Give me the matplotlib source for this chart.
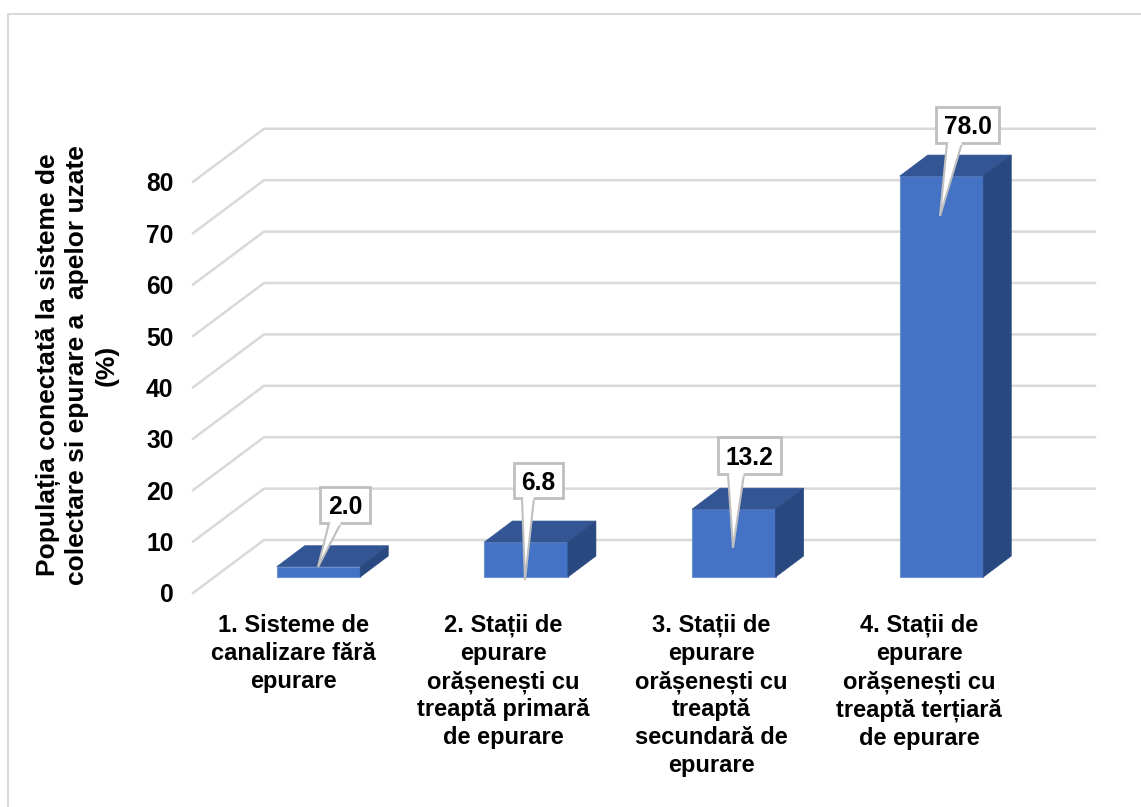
import matplotlib
matplotlib.use('Agg')
import matplotlib.pyplot as plt
from matplotlib.patches import Polygon, Rectangle
from matplotlib.transforms import Affine2D

plt.rcParams['font.family'] = ['Liberation Sans', 'DejaVu Sans']
plt.rcParams['font.weight'] = 'bold'

categories = [
    '1. Sisteme de\ncanalizare fără\nepurare',
    '2. Stații de\nepurare\norășenești cu\ntreaptă primară\nde epurare',
    '3. Stații de\nepurare\norășenești cu\ntreaptă\nsecundară de\nepurare',
    '4. Stații de\nepurare\norășenești cu\ntreaptă terțiară\nde epurare',
]
values = [2.0, 6.8, 13.2, 78.0]
yticks = [0, 10, 20, 30, 40, 50, 60, 70, 80]

W, H = 1141, 807
PX_X = 207.67   # px per category
PX_Y = 5.14     # px per percent
LEFT, RIGHT, BOTTOM, TOP = 193, 1095, 593, 128
CAT0 = 296      # px of first category on the front plane

# box (x0, x1, y0, y1), tail base (x0, x1), tail tip (x, y), in picture pixels
callouts = [
    ((320, 370, 487, 523), (329, 341), (318, 567)),
    ((514, 563, 463, 498), (522, 534), (525, 580)),
    ((718, 781, 437, 474), (728, 744), (733, 548)),
    ((936, 999, 107, 143), (947, 962), (940, 216)),
]

fig = plt.figure(figsize=(W / 100, H / 100), dpi=100)

# outer frame
fig.add_artist(plt.Line2D([8 / W, 8 / W, 1], [0, 1 - 13.5 / H, 1 - 13.5 / H], color='#d9d9d9', lw=1.5))

ax = fig.add_axes([LEFT / W, 1 - BOTTOM / H, (RIGHT - LEFT) / W, (BOTTOM - TOP) / H])
ax.set_xlim(-(CAT0 - LEFT) / PX_X, (RIGHT - CAT0) / PX_X)
ax.set_ylim(0, (BOTTOM - TOP) / PX_Y)
for s in ax.spines.values():
    s.set_visible(False)


def to_data(px, py):
    return (px - CAT0) / PX_X, (BOTTOM - py) / PX_Y


# gridlines: floor/side line then back wall
wall_dx = 71 / PX_X
wall_dy = 53 / PX_Y
x0, x1 = ax.get_xlim()
for v in yticks:
    ax.plot([x0, x0 + wall_dx, x1], [v, v + wall_dy, v + wall_dy], color='#d9d9d9', lw=1.8, clip_on=False, zorder=1)

# 3D bars
bar_dx = 22.5 / PX_X
bar_dy = 16 / PX_Y
bar_w = 83.5 / PX_X
depth_x = 28 / PX_X
depth_y = 21 / PX_Y
for i, v in enumerate(values):
    xl = i + bar_dx - bar_w / 2
    xr = i + bar_dx + bar_w / 2
    ax.bar(i + bar_dx, v, bar_w, bottom=bar_dy, color='#4472c4', edgecolor='#6f92d3', lw=0.8, zorder=3)
    t = v + bar_dy
    ax.add_patch(Polygon([(xl, t), (xr, t), (xr + depth_x, t + depth_y), (xl + depth_x, t + depth_y)],
                         fc='#335593', ec='#335593', lw=0.5, zorder=3))
    ax.add_patch(Polygon([(xr, bar_dy), (xr + depth_x, bar_dy + depth_y), (xr + depth_x, t + depth_y), (xr, t)],
                         fc='#2a4880', ec='#2a4880', lw=0.5, zorder=3))

# data callouts
for v, (box, base, tip) in zip(values, callouts):
    bx0, bx1, by0, by1 = box
    a = to_data(bx0, by1)
    b = to_data(bx1, by0)
    ax.add_patch(Rectangle(a, b[0] - a[0], b[1] - a[1], fc='white', ec='#bfbfbf', lw=2, zorder=5, clip_on=False))
    ax.add_patch(Polygon([to_data(base[0], by1), to_data(*tip), to_data(base[1], by1)], closed=False,
                         fc='white', ec='#bfbfbf', lw=1.5, zorder=6, clip_on=False))
    ax.plot(*zip(to_data(base[0] + 1, by1), to_data(base[1] - 1, by1)), color='white', lw=2.5, zorder=7,
            solid_capstyle='butt', clip_on=False)
    ax.text((a[0] + b[0]) / 2, (a[1] + b[1]) / 2, f'{v:.1f}', ha='center', va='center_baseline',
            fontsize=17.7, fontweight='bold', color='black', zorder=8, clip_on=False)

ax.set_yticks(yticks)
ax.set_yticklabels([str(y) for y in yticks], fontsize=17.7, fontweight='bold')
ax.set_xticks(range(len(categories)))
ax.set_xticklabels(categories, fontsize=17, fontweight='bold', linespacing=1.27, va='top')
ax.tick_params(axis='both', length=0)
ax.tick_params(axis='y', pad=14)
ax.tick_params(axis='x', pad=15)
lbl = ax.get_xticklabels()[0]
lbl.set_transform(lbl.get_transform() + Affine2D().translate(-3, 0))

fig.text(77 / W, 1 - 365 / H, 'Populația conectată la sisteme de\ncolectare si epurare a  apelor uzate\n(%)',
         rotation=90, ha='center', va='center', multialignment='center', fontsize=19, fontweight='bold',
         linespacing=1.26)

fig.savefig('out.png', dpi=100)
